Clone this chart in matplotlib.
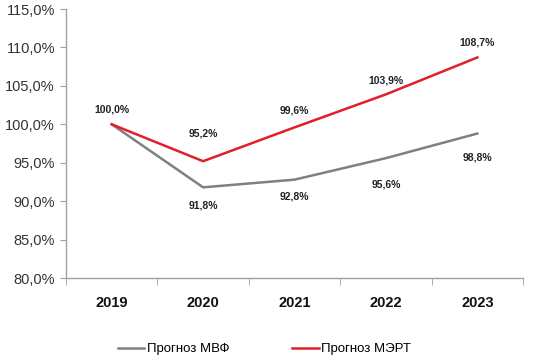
import numpy as np
import matplotlib
matplotlib.use("Agg")
import matplotlib.pyplot as plt
from matplotlib.ticker import FixedLocator

years = ["2019", "2020", "2021", "2022", "2023"]
imf = [100.0, 91.8, 92.8, 95.6, 98.8]
mert = [100.0, 95.2, 99.6, 103.9, 108.7]
yticks = [80, 85, 90, 95, 100, 105, 110, 115]

# label offsets in points (dy), per point
imf_offsets = [None, -13, -12, -19, -17]
mert_offsets = [11, 20, 12, 10, 11]

plt.rcParams['font.family'] = ['Liberation Sans', 'DejaVu Sans']

fig = plt.figure(figsize=(5.5, 3.62), dpi=100)
ax = fig.add_axes([0.12, 0.232, 0.831, 0.743])

x = np.arange(len(years))
ax.plot(x, imf, color="#808080", lw=1.8, label="Прогноз МВФ")
ax.plot(x, mert, color="#e21f26", lw=1.8, label="Прогноз МЭРТ")

def fmt(v):
    return f"{v:.1f}%".replace(".", ",")

for i, v in enumerate(mert):
    ax.annotate(fmt(v), (i, v), xytext=(0, mert_offsets[i]), textcoords="offset points",
                ha="center", va="center", fontsize=7.5, fontweight="bold", color="#222222")
for i, v in enumerate(imf):
    if imf_offsets[i] is None:
        continue
    ax.annotate(fmt(v), (i, v), xytext=(0, imf_offsets[i]), textcoords="offset points",
                ha="center", va="center", fontsize=7.5, fontweight="bold", color="#222222")

ax.set_xlim(-0.5, len(years) - 0.5)
ax.set_ylim(80, 115)
ax.set_yticks(yticks)
ax.set_yticklabels([fmt(t) for t in yticks], fontsize=10.5, color="#333333")
ax.set_xticks(x)
ax.set_xticklabels(years, fontsize=10.5, fontweight="bold", color="#111111")
ax.xaxis.set_minor_locator(FixedLocator(np.arange(-0.5, len(years), 1.0)))
ax.tick_params(axis="x", which="major", length=0, pad=13)
ax.tick_params(axis="x", which="minor", length=5, color="#a0a0a0", direction="out")
ax.tick_params(axis="y", length=4, color="#a0a0a0", pad=4)

for s in ["top", "right"]:
    ax.spines[s].set_visible(False)
for s in ["left", "bottom"]:
    ax.spines[s].set_color("#a0a0a0")
    ax.spines[s].set_linewidth(1.0)

fig.legend(loc="lower center", bbox_to_anchor=(0.481, -0.014), ncol=2, frameon=False,
           fontsize=9.5, handlelength=2.0, handletextpad=0.2, columnspacing=4.75)

fig.savefig("out.png", dpi=100, facecolor="white")
